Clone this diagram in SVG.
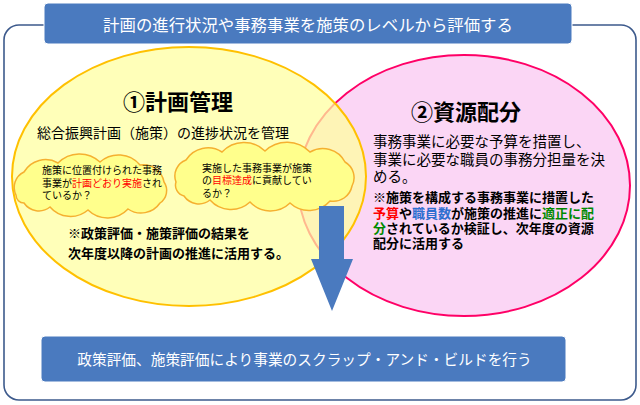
<svg xmlns="http://www.w3.org/2000/svg" width="640" height="405" viewBox="0 0 640 405">
<style>
text{font-family:"Liberation Sans","Noto Sans CJK JP","Noto Sans CJK SC",sans-serif;}
.box{fill:#4a7abf;stroke:#ffffff;stroke-width:1;}
.wt{fill:#ffffff;}
.cloud{fill:#ffff8c;stroke:#f5b030;stroke-width:1.5;}
.b{font-weight:bold;}
.red{fill:#ff0000;}
.blue{fill:#2f6fd0;}
.green{fill:#008a00;}
</style>
<rect x="0" y="0" width="640" height="405" fill="#ffffff"/>
<g id="frame">
<rect x="4" y="25" width="632" height="375" rx="15" ry="15" fill="#ffffff" stroke="#3d5a8c" stroke-width="1.6"/>
</g>
<g id="pink">
<ellipse cx="464" cy="185.5" rx="166" ry="130.5" fill="#fbd6f5" stroke="#ff0066" stroke-width="2"/>
</g>
<g id="yellow">
<ellipse cx="189" cy="176.5" rx="177" ry="129.5" fill="#ffff9e" fill-opacity="0.72" stroke="#ffc000" stroke-width="2"/>
</g>
<g id="title">
<rect class="box" x="44" y="3" width="528" height="41" rx="4"/>
<text class="wt" x="308" y="31" font-size="16.4" text-anchor="middle">計画の進行状況や事務事業を施策のレベルから評価する</text>
</g>
<g id="plan">
<text x="178" y="110" font-size="22" class="b" text-anchor="middle">①計画管理</text>
<text x="163" y="138" font-size="14" text-anchor="middle">総合振興計画（施策）の進捗状況を管理</text>
</g>
<g id="cloud1">
<path class="cloud" d="M16,195 A17,17 0 0 1 24,172 A25,25 0 0 1 58,163 A30,30 0 0 1 100,162 A28,28 0 0 1 140,165 A21,21 0 0 1 164,182 A15,15 0 0 1 160,203 A23,23 0 0 1 128,209 A28,28 0 0 1 88,210 A27,27 0 0 1 50,207 A18,18 0 0 1 24,203 A8,8 0 0 1 16,195 Z"/>
<text font-size="10"><tspan x="42" y="174">施策に位置付けられた事務</tspan><tspan x="42" y="187">事業が<tspan class="red">計画どおり実施</tspan>され</tspan><tspan x="42" y="199">ているか？</tspan></text>
</g>
<g id="cloud2">
<path class="cloud" d="M176,182 A17,17 0 0 1 186,160 A26,26 0 0 1 222,152 A30,30 0 0 1 265,151 A32,32 0 0 1 310,152 A25,25 0 0 1 345,162 A18,18 0 0 1 352,186 A19,19 0 0 1 330,201 A28,28 0 0 1 290,203 A28,28 0 0 1 250,202 A28,28 0 0 1 210,200 A18,18 0 0 1 184,196 A11,11 0 0 1 176,182 Z"/>
<text font-size="10"><tspan x="202" y="172">実施した事務事業が施策</tspan><tspan x="202" y="184">の<tspan class="red">目標達成</tspan>に貢献してい</tspan><tspan x="202" y="197">るか？</tspan></text>
</g>
<g id="plan-note">
<text font-size="13" class="b"><tspan x="68" y="238">※政策評価・施策評価の結果を</tspan><tspan x="68" y="258">次年度以降の計画の推進に活用する。</tspan></text>
</g>
<g id="resource">
<text x="466" y="120" font-size="22" class="b" text-anchor="middle">②資源配分</text>
<text font-size="14.5"><tspan x="373" y="147">事務事業に必要な予算を措置し、</tspan><tspan x="373" y="165">事業に必要な職員の事務分担量を決</tspan><tspan x="373" y="182">める。</tspan></text>
<text font-size="13" class="b"><tspan x="373" y="202">※施策を構成する事務事業に措置した</tspan><tspan x="373" y="218"><tspan class="red">予算</tspan>や<tspan class="blue">職員数</tspan>が施策の推進に<tspan class="green">適正に配</tspan></tspan><tspan x="373" y="233"><tspan class="green">分</tspan>されているか検証し、次年度の資源</tspan><tspan x="373" y="248">配分に活用する</tspan></text>
</g>
<g id="connectors">
<polygon points="319,206 344,206 344,259 353,259 332,311 311,259 319,259" fill="#4a7abf"/>
</g>
<g id="result">
<rect class="box" x="41" y="336" width="525" height="46" rx="4"/>
<text class="wt" x="304.5" y="365" font-size="14.7" text-anchor="middle">政策評価、施策評価により事業のスクラップ・アンド・ビルドを行う</text>
</g>
</svg>
